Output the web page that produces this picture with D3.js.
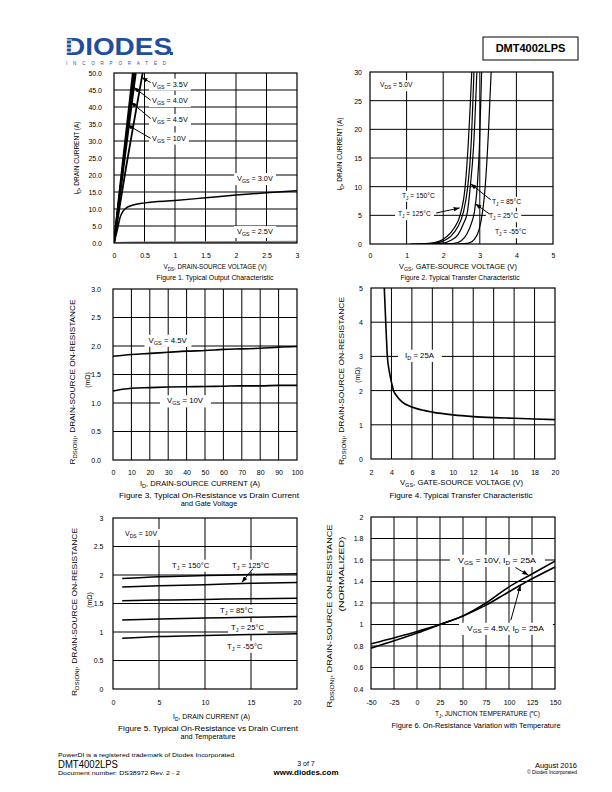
<!DOCTYPE html>
<html><head><meta charset="utf-8">
<script src="https://cdn.jsdelivr.net/npm/d3@7"></script>
<style>body{margin:0;background:#fff}svg{display:block}</style>
</head><body>
<svg id="s" width="612" height="792"></svg>
<script>
// ---------------- DATA ----------------
// Figure 1: Typical Output Characteristic  [VDS (V), ID (A)]
const fig1_xTicks = [0, 0.5, 1, 1.5, 2, 2.5, 3];
const fig1_yTicks = [0, 5, 10, 15, 20, 25, 30, 35, 40, 45, 50];
const fig1_vgs10 = [[0,0],[0.1,16.5],[0.2,32.5],[0.31,50]];
const fig1_vgs45 = [[0,0],[0.1,15.5],[0.2,30.5],[0.33,50]];
const fig1_vgs40 = [[0,0],[0.1,14.5],[0.2,28.5],[0.355,50]];
const fig1_vgs35 = [[0,0],[0.1,11.5],[0.2,22.5],[0.3,32.8],[0.4,43],[0.47,50]];
const fig1_vgs30 = [[0,0],[0.05,3.5],[0.1,7.5],[0.15,9.4],[0.2,10.3],[0.3,11.1],[0.5,11.8],[1,12.5],[1.5,13.3],[2,14.1],[2.5,14.8],[3,15.4]];
const fig1_vgs25 = [[0,0],[0.3,0.15],[3,0.35]];

// Figure 2: Typical Transfer Characteristic  [VGS (V), ID (A)]
const fig2_xTicks = [0, 1, 2, 3, 4, 5];
const fig2_yTicks = [0, 5, 10, 15, 20, 25, 30];
const fig2_t150 = [[1.1,0],[1.6,0.1],[1.9,0.5],[2.1,1.3],[2.3,2.8],[2.46,5],[2.6,10],[2.68,17],[2.73,23],[2.78,30]];
const fig2_t125 = [[1.3,0],[1.75,0.1],[2.0,0.5],[2.2,1.3],[2.4,3],[2.55,5.5],[2.67,10],[2.76,17],[2.84,30]];
const fig2_t85  = [[1.5,0],[1.95,0.1],[2.2,0.6],[2.4,1.6],[2.55,3.5],[2.66,5.5],[2.74,10],[2.83,17],[2.92,30]];
const fig2_t25  = [[1.9,0],[2.3,0.1],[2.5,0.6],[2.65,1.8],[2.77,3.6],[2.85,5.5],[2.93,10],[2.99,17],[3.05,30]];
const fig2_tm55 = [[2.4,0],[2.7,0.15],[2.85,0.8],[2.98,2.5],[3.06,5],[3.12,8],[3.17,12],[3.24,20],[3.31,30]];

// Figure 3: On-Resistance vs Drain Current and Gate Voltage [ID (A), RDS(ON) (mOhm)]
const fig3_xTicks = [0,10,20,30,40,50,60,70,80,90,100];
const fig3_yTicks = [0,0.5,1,1.5,2,2.5,3];
const fig3_vgs45 = [[0,1.82],[10,1.85],[20,1.87],[30,1.89],[40,1.91],[50,1.92],[60,1.94],[70,1.95],[80,1.96],[90,1.98],[100,1.99]];
const fig3_vgs10 = [[0,1.21],[5,1.24],[10,1.26],[20,1.27],[30,1.28],[40,1.285],[50,1.29],[60,1.295],[70,1.3],[80,1.3],[90,1.31],[100,1.31]];

// Figure 4: RDS(ON) vs VGS, ID = 25A
const fig4_xTicks = [2,4,6,8,10,12,14,16,18,20];
const fig4_yTicks = [0,1,2,3,4,5];
const fig4_id25 = [[3.3,5],[3.4,4.3],[3.5,3.6],[3.6,3.0],[3.8,2.55],[4.0,2.25],[4.2,2.0],[4.5,1.85],[5,1.68],[6,1.52],[7,1.43],[8,1.37],[10,1.29],[12,1.24],[14,1.21],[16,1.19],[18,1.17],[20,1.15]];

// Figure 5: RDS(ON) vs Drain Current and Temperature
const fig5_xTicks = [0,5,10,15,20];
const fig5_yTicks = [0,0.5,1,1.5,2,2.5,3];
const fig5_t150 = [[1,1.94],[5,1.97],[10,1.99],[15,2.01],[20,2.02]];
const fig5_t125 = [[1,1.79],[5,1.81],[10,1.83],[15,1.855],[20,1.87]];
const fig5_t85  = [[1,1.55],[5,1.56],[10,1.57],[15,1.585],[20,1.59]];
const fig5_t25  = [[1,1.21],[5,1.23],[10,1.245],[15,1.26],[20,1.27]];
const fig5_tm55 = [[1,0.89],[5,0.92],[10,0.94],[15,0.955],[20,0.97]];

// Figure 6: Normalized RDS(ON) vs Junction Temperature
const fig6_xTicks = [-50,-25,0,25,50,75,100,125,150];
const fig6_yTicks = [0.4,0.6,0.8,1,1.2,1.4,1.6,1.8,2];
const fig6_vgs10 = [[-50,0.78],[0,0.92],[25,1.0],[50,1.08],[75,1.2],[100,1.35],[125,1.47],[150,1.59]];
const fig6_vgs45 = [[-50,0.82],[0,0.935],[25,1.0],[50,1.08],[75,1.18],[100,1.305],[125,1.425],[150,1.535]];

// ---------------- DRAWING ----------------
const FONT = "'Liberation Sans', Arial, Helvetica, sans-serif";
const svg = d3.select("#s");
const defs = svg.append("defs");
defs.append("marker").attr("id","arr").attr("viewBox","0 0 8 6").attr("refX",8).attr("refY",3)
  .attr("markerWidth",6).attr("markerHeight",4.5).attr("orient","auto").attr("markerUnits","userSpaceOnUse")
  .append("path").attr("d","M0,0L8,3L0,6z").attr("fill","#000");

function rich(t, str, size) {
  const parts = str.split(/(_\{[^}]*\})/);
  let shift = 0;
  parts.forEach(p => {
    if (!p) return;
    if (p.startsWith("_{")) {
      t.append("tspan").attr("font-size", size*0.72).attr("dy", size*0.28).text(p.slice(2,-1));
      shift = size*0.28;
    } else {
      const s = t.append("tspan").text(p);
      if (shift) { s.attr("dy", -shift); shift = 0; }
    }
  });
}
function txt(g, x, cy, str, o = {}) {
  const size = o.size || 7;
  const t = g.append("text").attr("font-family", FONT).attr("font-size", size)
    .attr("text-anchor", o.anchor || "start").attr("fill", o.fill || "#000");
  if (o.weight) t.attr("font-weight", o.weight);
  if (o.rot) {
    t.attr("transform", `translate(${x},${cy}) rotate(-90)`).attr("x", 0).attr("y", size*0.35);
  } else {
    t.attr("x", x).attr("y", cy + size*0.35);
  }
  rich(t, str, size);
  if (o.width) t.attr("textLength", o.width).attr("lengthAdjust", "spacingAndGlyphs");
  return t;
}

let clipId = 0;
function chart(c) {
  const g = svg.append("g");
  const x = d3.scaleLinear().domain(c.xd).range([c.x0, c.x1]);
  const y = d3.scaleLinear().domain(c.yd).range([c.y1, c.y0]);
  const gs = c.ts || 7;
  g.append("g").selectAll("line").data(c.xg).join("line")
    .attr("x1", d => x(d)).attr("x2", d => x(d)).attr("y1", c.y0).attr("y2", c.y1)
    .attr("stroke", "#000").attr("stroke-width", 1);
  g.append("g").selectAll("line").data(c.yg).join("line")
    .attr("y1", d => y(d)).attr("y2", d => y(d)).attr("x1", c.x0).attr("x2", c.x1)
    .attr("stroke", "#000").attr("stroke-width", 1);
  const xa = g.append("g").attr("transform", `translate(0,${c.xty})`)
    .call(d3.axisBottom(x).tickValues(c.xt).tickSize(0).tickPadding(0).tickFormat(c.xf || (d => String(d))));
  xa.select(".domain").remove();
  xa.selectAll("text").attr("y", 0).attr("dy", "0.35em").attr("font-size", gs).attr("font-family", FONT).attr("fill", "#000");
  const ya = g.append("g").attr("transform", `translate(${c.ytx},0)`)
    .call(d3.axisLeft(y).tickValues(c.yt).tickSize(0).tickPadding(0).tickFormat(c.yf || (d => String(d))));
  ya.select(".domain").remove();
  ya.selectAll("text").attr("x", 0).attr("dy", "0.35em").attr("font-size", gs).attr("font-family", FONT).attr("fill", "#000");
  const lg = g.append("g");
  (c.labels || []).forEach(l => {
    const t = txt(lg, l.x, l.y, l.s, { size: l.size || c.ls || 6.5, width: l.w });
    const b = t.node().getBBox();
    const px = l.px != null ? l.px : 3;
    lg.insert("rect", "text").attr("x", b.x - px).attr("y", b.y - 1).attr("width", b.width + 2*px)
      .attr("height", b.height + 2).attr("fill", "#fff");
  });
  const id = "clip" + (clipId++);
  defs.append("clipPath").attr("id", id).append("rect")
    .attr("x", c.x0).attr("y", c.y0).attr("width", c.x1 - c.x0).attr("height", c.y1 - c.y0);
  const cg = g.append("g").attr("clip-path", `url(#${id})`);
  const line = d3.line().x(d => x(d[0])).y(d => y(d[1])).curve(d3.curveMonotoneX);
  c.series.forEach(s => {
    cg.append("path").attr("d", line(s.d)).attr("fill", "none")
      .attr("stroke", s.color || "#000").attr("stroke-width", s.w || 1.5).attr("stroke-linejoin", "round");
  });
  (c.arrows || []).forEach(a => {
    g.append("line").attr("x1", x(a[0])).attr("y1", y(a[1])).attr("x2", x(a[2])).attr("y2", y(a[3]))
      .attr("stroke", "#000").attr("stroke-width", 1).attr("marker-end", "url(#arr)");
  });
  g.append("rect").attr("x", c.x0).attr("y", c.y0).attr("width", c.x1 - c.x0).attr("height", c.y1 - c.y0)
    .attr("fill", "none").attr("stroke", "#000").attr("stroke-width", 1.2);
  (c.texts || []).forEach(t => txt(g, t.x, t.y, t.s, t));
}

// Figure 1
chart({
  x0: 114, x1: 297, y0: 73, y1: 243, xd: [0, 3], yd: [0, 50],
  xg: [0.5, 1, 1.5, 2, 2.5], yg: [5, 10, 15, 20, 25, 30, 35, 40, 45],
  xt: fig1_xTicks, yt: fig1_yTicks, yf: d3.format(".1f"),
  xty: 256, ytx: 102, ts: 7, ls: 7.3,
  labels: [
    { x: 152, y: 84, s: "V_{GS} = 3.5V" }, { x: 152, y: 100.5, s: "V_{GS} = 4.0V" },
    { x: 152, y: 119.5, s: "V_{GS} = 4.5V" }, { x: 152, y: 138, s: "V_{GS} = 10V" },
    { x: 237, y: 178.5, s: "V_{GS} = 3.0V" }, { x: 237, y: 231.5, s: "V_{GS} = 2.5V" }
  ],
  series: [
    { d: fig1_vgs25, color: "#888", w: 2 }, { d: fig1_vgs30, w: 1.5 },
    { d: fig1_vgs10, w: 2 }, { d: fig1_vgs45, w: 2 }, { d: fig1_vgs40, w: 2 }, { d: fig1_vgs35, w: 1.8 }
  ],
  arrows: [[0.6, 47.2, 0.455, 48.7], [0.6, 42.0, 0.325, 45.8], [0.6, 36.6, 0.275, 41.5], [0.6, 30.8, 0.215, 34.8]],
  texts: [
    { x: 215, y: 267, s: "V_{DS}, DRAIN-SOURCE VOLTAGE (V)", anchor: "middle", size: 6.5, width: 103 },
    { x: 215, y: 278, s: "Figure 1. Typical Output Characteristic", anchor: "middle", size: 6.5, width: 117 },
    { x: 77, y: 158, s: "I_{D}, DRAIN CURRENT (A)", anchor: "middle", size: 6.5, rot: true }
  ]
});

// Figure 2
chart({
  x0: 370, x1: 553, y0: 72, y1: 244, xd: [0, 5], yd: [0, 30],
  xg: [1, 2, 3, 4], yg: [5, 10, 15, 20, 25],
  xt: fig2_xTicks, yt: fig2_yTicks, xty: 256, ytx: 362, ts: 7, ls: 6.7,
  labels: [
    { x: 380, y: 85, s: "V_{DS} = 5.0V" },
    { x: 402, y: 195.5, s: "T_{J} = 150°C" }, { x: 398, y: 214, s: "T_{J} = 125°C" },
    { x: 492, y: 201.5, s: "T_{J} =  85°C" }, { x: 489, y: 216, s: "T_{J} = 25°C" },
    { x: 495, y: 232, s: "T_{J} = -55°C" }
  ],
  series: [
    { d: fig2_t150, w: 1.2 }, { d: fig2_t125, w: 1.2 }, { d: fig2_t85, w: 1.2 },
    { d: fig2_t25, w: 1.2 }, { d: fig2_tm55, w: 1.2 }
  ],
  arrows: [[1.81, 5.4, 2.45, 6.3], [3.3, 7.7, 2.75, 10.5], [3.27, 5.2, 2.88, 7.0]],
  texts: [
    { x: 458, y: 267, s: "V_{GS}, GATE-SOURCE VOLTAGE (V)", anchor: "middle", size: 6.8, width: 118 },
    { x: 460, y: 278, s: "Figure 2. Typical Transfer Characteristic", anchor: "middle", size: 6.8, width: 119 },
    { x: 340, y: 154, s: "I_{D}, DRAIN CURRENT (A)", anchor: "middle", size: 6.5, rot: true }
  ]
});

// Figure 3
chart({
  x0: 113, x1: 297, y0: 289, y1: 460, xd: [0, 100], yd: [0, 3],
  xg: [10, 20, 30, 40, 50, 60, 70, 80, 90], yg: [0.5, 1, 1.5, 2, 2.5],
  xt: fig3_xTicks, yt: fig3_yTicks, yf: d3.format(".1f"), xty: 472.7, ytx: 101, ts: 7, ls: 7.8,
  labels: [
    { x: 148.5, y: 340, s: "V_{GS} = 4.5V", px: 4 }, { x: 167, y: 400.5, s: "V_{GS} = 10V", px: 7 }
  ],
  series: [{ d: fig3_vgs45, w: 1.6 }, { d: fig3_vgs10, w: 1.6 }],
  texts: [
    { x: 200, y: 484, s: "I_{D}, DRAIN-SOURCE CURRENT (A)", anchor: "middle", size: 7, width: 120 },
    { x: 209, y: 495, s: "Figure 3. Typical On-Resistance vs Drain Current", anchor: "middle", size: 7.3, width: 180 },
    { x: 209, y: 503.5, s: "and Gate Voltage", anchor: "middle", size: 7.3 },
    { x: 73, y: 382, s: "R_{DS(ON)}, DRAIN-SOURCE ON-RESISTANCE", anchor: "middle", size: 7, rot: true, width: 165 },
    { x: 88, y: 380, s: "(mΩ)", anchor: "middle", size: 7, rot: true }
  ]
});

// Figure 4
chart({
  x0: 371, x1: 555, y0: 288, y1: 459, xd: [2, 20], yd: [0, 5],
  xg: [4, 6, 8, 10, 12, 14, 16, 18], yg: [1, 2, 3, 4],
  xt: fig4_xTicks, yt: fig4_yTicks, xty: 472.7, ytx: 363, ts: 7, ls: 7.8,
  labels: [{ x: 405, y: 355, s: "I_{D} = 25A", px: 7 }],
  series: [{ d: fig4_id25, w: 1.6 }],
  texts: [
    { x: 461.5, y: 482.5, s: "V_{GS}, GATE-SOURCE VOLTAGE (V)", anchor: "middle", size: 7, width: 123 },
    { x: 461, y: 495, s: "Figure 4. Typical Transfer Characteristic", anchor: "middle", size: 7.2, width: 143 },
    { x: 342, y: 381, s: "R_{DS(ON)}, DRAIN-SOURCE ON-RESISTANCE", anchor: "middle", size: 7, rot: true, width: 168 },
    { x: 358, y: 375, s: "(mΩ)", anchor: "middle", size: 7, rot: true }
  ]
});

// Figure 5
chart({
  x0: 113, x1: 297, y0: 518, y1: 689, xd: [0, 20], yd: [0, 3],
  xg: [5, 10, 15], yg: [0.5, 1, 1.5, 2, 2.5],
  xt: fig5_xTicks, yt: fig5_yTicks, xty: 702.7, ytx: 103.5, ts: 7, ls: 7.6,
  labels: [
    { x: 125, y: 533.5, s: "V_{DS} = 10V", size: 7 },
    { x: 172, y: 565, s: "T_{J} = 150°C" }, { x: 232, y: 565, s: "T_{J} = 125°C" },
    { x: 220, y: 610, s: "T_{J} =  85°C" }, { x: 231, y: 627.5, s: "T_{J} = 25°C" },
    { x: 227, y: 646, s: "T_{J} = -55°C" }
  ],
  series: [
    { d: fig5_t150 }, { d: fig5_t125 }, { d: fig5_t85 }, { d: fig5_t25 }, { d: fig5_tm55 }
  ],
  arrows: [[15.2, 2.11, 14.0, 1.87]],
  texts: [
    { x: 211.5, y: 716.7, s: "I_{D}, DRAIN CURRENT (A)", anchor: "middle", size: 7, width: 77 },
    { x: 208, y: 728.3, s: "Figure 5. Typical On-Resistance vs Drain Current", anchor: "middle", size: 7.3, width: 180 },
    { x: 208, y: 736.7, s: "and Temperature", anchor: "middle", size: 7.3 },
    { x: 75, y: 612, s: "R_{DS(ON)},  DRAIN-SOURCE ON-RESISTANCE", anchor: "middle", size: 7, rot: true, width: 168 },
    { x: 90, y: 600, s: "(mΩ)", anchor: "middle", size: 7, rot: true }
  ]
});

// Figure 6
chart({
  x0: 371, x1: 555, y0: 517, y1: 689, xd: [-50, 150], yd: [0.4, 2],
  xg: [-25, 0, 25, 50, 75, 100, 125], yg: [0.6, 0.8, 1, 1.2, 1.4, 1.6, 1.8],
  xt: fig6_xTicks, yt: fig6_yTicks, xty: 702.7, ytx: 363.5, ts: 7, ls: 7.8,
  labels: [
    { x: 458, y: 560, s: "V_{GS} = 10V, I_{D} = 25A", px: 8, w: 78 },
    { x: 467, y: 628, s: "V_{GS} = 4.5V, I_{D} = 25A", px: 8, w: 77 }
  ],
  series: [{ d: fig6_vgs10, w: 1.6 }, { d: fig6_vgs45, w: 1.6 }],
  arrows: [[107, 1.53, 121, 1.46], [102, 1.04, 112.5, 1.365]],
  texts: [
    { x: 487.5, y: 713.3, s: "T_{J}, JUNCTION TEMPERATURE (℃)", anchor: "middle", size: 7, width: 105 },
    { x: 476, y: 725, s: "Figure 6. On-Resistance Variation with Temperature", anchor: "middle", size: 7.2, width: 169 },
    { x: 330, y: 616, s: "R_{DS(ON)},  DRAIN-SOURCE ON-RESISTANCE", anchor: "middle", size: 7, rot: true, width: 183 },
    { x: 342, y: 574, s: "(NORMALIZED)", anchor: "middle", size: 7, rot: true, width: 75 }
  ]
});

// ---------------- HEADER / FOOTER ----------------
const hd = svg.append("g");
hd.append("text").attr("x", 65).attr("y", 54.5).attr("font-family", FONT).attr("font-weight", "bold")
  .attr("font-size", 24).attr("fill", "#1f4e9e").attr("textLength", 107).attr("lengthAdjust", "spacingAndGlyphs")
  .text("DIODES");
[40, 44, 48, 52].forEach(yy => hd.append("line").attr("x1", 64).attr("x2", 72).attr("y1", yy).attr("y2", yy)
  .attr("stroke", "#fff").attr("stroke-width", 1));
hd.append("rect").attr("x", 170).attr("y", 52).attr("width", 3).attr("height", 3).attr("fill", "#1f4e9e");
hd.append("text").attr("x", 66).attr("y", 64.5).attr("font-family", FONT).attr("font-size", 4.5)
  .attr("fill", "#1f4e9e").attr("textLength", 100).attr("lengthAdjust", "spacing").text("INCORPORATED");
hd.append("rect").attr("x", 483).attr("y", 37).attr("width", 95).attr("height", 23)
  .attr("fill", "none").attr("stroke", "#000").attr("stroke-width", 1);
txt(hd, 530.5, 48.5, "DMT4002LPS", { anchor: "middle", size: 11, weight: "bold" });

const ft = svg.append("g");
txt(ft, 58, 755, "PowerDI is a registered trademark of Diodes Incorporated.", { size: 6, width: 178 });
txt(ft, 58, 764.5, "DMT4002LPS", { size: 10, width: 60 });
txt(ft, 58, 773, "Document number: DS38972  Rev. 2 - 2", { size: 6, width: 122 });
txt(ft, 306, 763.5, "3 of 7", { anchor: "middle", size: 7 });
txt(ft, 306, 772, "www.diodes.com", { anchor: "middle", size: 8, weight: "bold" });
txt(ft, 577, 765, "August 2016", { anchor: "end", size: 7.5 });
txt(ft, 577, 772.5, "© Diodes Incorporated", { anchor: "end", size: 5 });
</script>
</body></html>
